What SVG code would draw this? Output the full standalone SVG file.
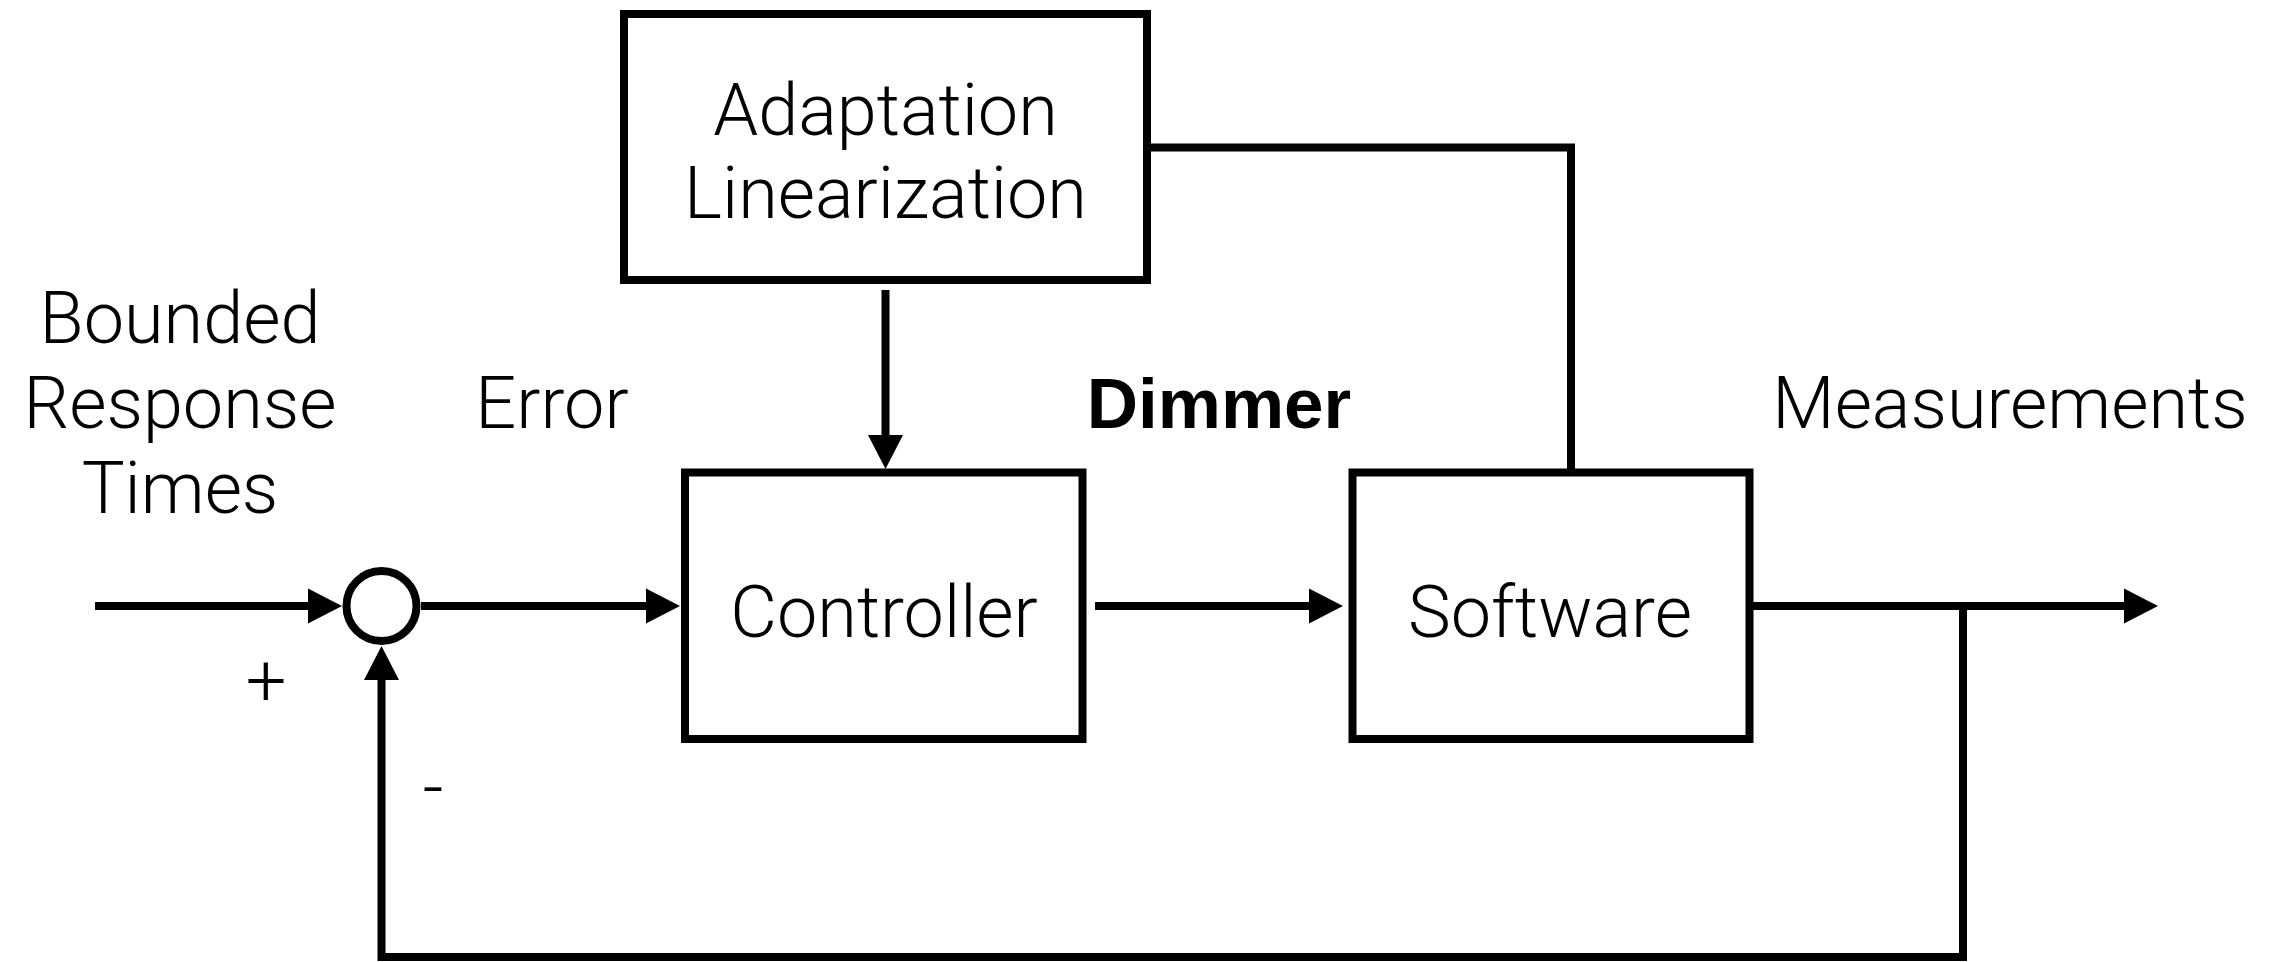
<svg xmlns="http://www.w3.org/2000/svg" width="2277" height="962" viewBox="0 0 2277 962">
  <style>
    .box { fill: #ffffff; stroke: #000000; stroke-width: 8; }
    .wire { fill: none; stroke: #000000; stroke-width: 8; }
    .lbl { font-family: Roboto, "Liberation Sans", Arial, sans-serif; font-weight: 300; font-size: 72px; fill: #000000; text-anchor: middle; }
    .bold { font-family: "Liberation Sans", Arial, sans-serif; font-weight: bold; font-size: 71px; }
  </style>
  <defs>
    <marker id="arrow" markerUnits="userSpaceOnUse" markerWidth="34" markerHeight="35" refX="2" refY="17.5" orient="auto" overflow="visible">
      <path d="M0,0 L34,17.5 L0,35 Z" fill="#000000"/>
    </marker>
  </defs>
  <rect width="2277" height="962" fill="#ffffff"/>

  <!-- signal lines -->
  <g id="connectors">
    <line class="wire" x1="95" y1="606" x2="310" y2="606" marker-end="url(#arrow)"/>
    <line class="wire" x1="421" y1="606" x2="648" y2="606" marker-end="url(#arrow)"/>
    <line class="wire" x1="885.5" y1="290" x2="885.5" y2="437" marker-end="url(#arrow)"/>
    <line class="wire" x1="1095" y1="606" x2="1311" y2="606" marker-end="url(#arrow)"/>
    <line class="wire" x1="1753" y1="606" x2="2126" y2="606" marker-end="url(#arrow)"/>
    <path class="wire" d="M1963,606 V957 H381.5 V678" marker-end="url(#arrow)"/>
    <path class="wire" d="M1150,147.5 H1571 V472"/>
  </g>

  <!-- summing junction -->
  <g id="sum">
    <circle cx="381.5" cy="606" r="35" fill="#ffffff" stroke="#000000" stroke-width="8"/>
    <text class="lbl" x="266" y="705">+</text>
    <text class="lbl" x="433" y="812">-</text>
  </g>

  <g id="adaptation">
    <rect class="box" x="624" y="14" width="523" height="266"/>
    <text class="lbl" x="885.5" y="135">Adaptation</text>
    <text class="lbl" x="885.5" y="218">Linearization</text>
  </g>

  <g id="controller">
    <rect class="box" x="685" y="472.5" width="397.5" height="266.5"/>
    <text class="lbl" x="884" y="637">Controller</text>
  </g>

  <g id="software">
    <rect class="box" x="1352.5" y="472.5" width="397" height="266.5"/>
    <text class="lbl" x="1550" y="637">Software</text>
  </g>

  <g id="setpoint">
    <text class="lbl" x="180" y="343">Bounded</text>
    <text class="lbl" x="180" y="428">Response</text>
    <text class="lbl" x="180" y="513">Times</text>
  </g>

  <g id="error">
    <text class="lbl" x="552" y="428">Error</text>
  </g>

  <g id="dimmer">
    <text class="lbl bold" x="1219" y="428">Dimmer</text>
  </g>

  <g id="measurements">
    <text class="lbl" x="2010" y="428">Measurements</text>
  </g>
</svg>
